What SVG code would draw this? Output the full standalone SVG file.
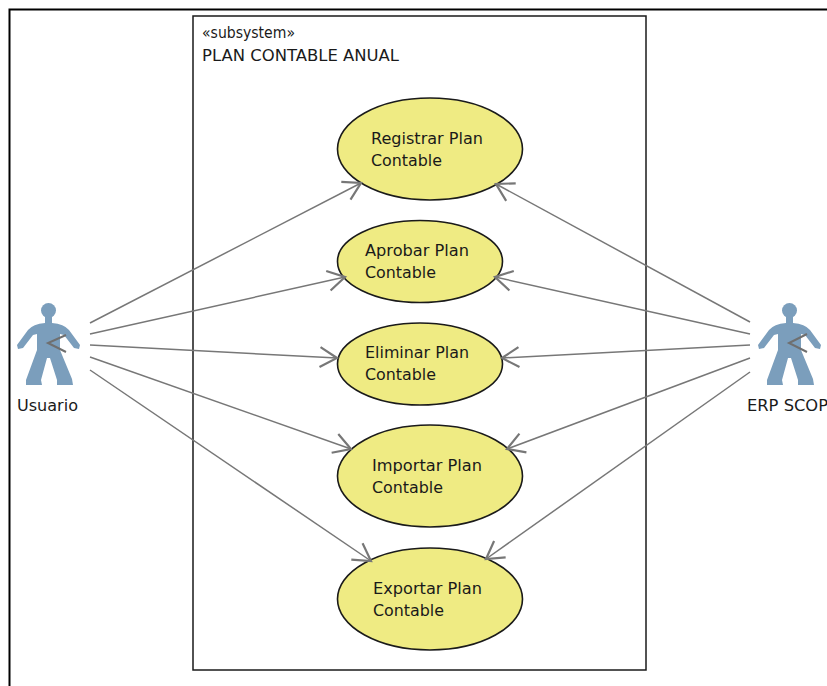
<svg xmlns="http://www.w3.org/2000/svg" width="827" height="686" viewBox="0 0 827 686">
<style>
text{font-family:"DejaVu Sans","Noto Sans",sans-serif;font-size:16px;fill:#1a1a1a}
.uc{fill:#efeb83;stroke:#1a1a1a;stroke-width:1.6}
.c{fill:none;stroke:#777;stroke-width:1.5;marker-end:url(#open)}
.fig{fill:#7b9ebc}
</style>
<defs>
<marker id="open" markerUnits="userSpaceOnUse" markerWidth="24" markerHeight="24" viewBox="-20 -12 24 24" refX="0" refY="0" orient="auto" overflow="visible">
<path d="M-17,-10 L0,0 L-17,10" fill="none" stroke="#777" stroke-width="2.2"/>
</marker>
<g id="figure">
<circle class="fig" cx="48.5" cy="310.5" r="7.5"/>
<path class="fig" d="M45,316 L52,316 L52,323 Q64,324 69,330 L80,345 L79,349 L74,348 L64,335 L60,334 L60,350 L72,379 L73,385 L57,385 L57,380 L50,358 L47,358 L41,380 L42,385 L26,385 L26,380 L37,350 L37,334 L33,335 L23,348 L18,349 L17,345 L28,330 Q33,324 45,323 Z"/>
</g>
</defs>
<rect id="frame" x="9.5" y="9.5" width="900" height="760" fill="#fff" stroke="#000" stroke-width="2"/>
<g id="subsystem">
<rect x="193" y="16" width="453" height="654" fill="#fff" stroke="#1a1a1a" stroke-width="1.5"/>
<text x="202" y="38" textLength="93" lengthAdjust="spacingAndGlyphs">«subsystem»</text>
<text x="202" y="61" textLength="197" lengthAdjust="spacingAndGlyphs">PLAN CONTABLE ANUAL</text>
</g>
<g id="uc1"><ellipse class="uc" cx="430" cy="149" rx="92.5" ry="51"/>
<text x="371" y="144" textLength="112" lengthAdjust="spacingAndGlyphs">Registrar Plan</text><text x="371" y="166" textLength="71" lengthAdjust="spacingAndGlyphs">Contable</text></g>
<g id="uc2"><ellipse class="uc" cx="420" cy="261.500" rx="82.500" ry="41"/>
<text x="365" y="256" textLength="104" lengthAdjust="spacingAndGlyphs">Aprobar Plan</text><text x="365" y="278" textLength="71" lengthAdjust="spacingAndGlyphs">Contable</text></g>
<g id="uc3"><ellipse class="uc" cx="420" cy="364" rx="82.500" ry="41"/>
<text x="365" y="358" textLength="104" lengthAdjust="spacingAndGlyphs">Eliminar Plan</text><text x="365" y="380" textLength="71" lengthAdjust="spacingAndGlyphs">Contable</text></g>
<g id="uc4"><ellipse class="uc" cx="430" cy="476" rx="92.500" ry="51"/>
<text x="372" y="471" textLength="110" lengthAdjust="spacingAndGlyphs">Importar Plan</text><text x="372" y="493" textLength="71" lengthAdjust="spacingAndGlyphs">Contable</text></g>
<g id="uc5"><ellipse class="uc" cx="430" cy="599" rx="92.500" ry="51"/>
<text x="373" y="594" textLength="109" lengthAdjust="spacingAndGlyphs">Exportar Plan</text><text x="373" y="616" textLength="71" lengthAdjust="spacingAndGlyphs">Contable</text></g>
<g id="actor-usuario"><use href="#figure"/>
<text x="17" y="411" textLength="61" lengthAdjust="spacingAndGlyphs">Usuario</text></g>
<g id="actor-erp"><use href="#figure" x="741"/>
<text x="747" y="411" textLength="81" lengthAdjust="spacingAndGlyphs">ERP SCOP</text></g>
<g id="connectors">
<path class="c" d="M90,323 L361,183"/>
<path class="c" d="M90,334 L345,277"/>
<path class="c" d="M90,345 L337,358"/>
<path class="c" d="M90,357 L351,449"/>
<path class="c" d="M90,370 L371,561"/>
<path class="c" d="M750,322 L496,184"/>
<path class="c" d="M750,334 L495,277"/>
<path class="c" d="M750,345 L502,358"/>
<path class="c" d="M750,358 L507,449"/>
<path class="c" d="M750,372 L486,559"/>
<path d="M66,335 L48,343 L66,352" fill="none" stroke="#6f6f6f" stroke-width="2"/>
<path d="M807,334 L789,343 L807,352" fill="none" stroke="#6f6f6f" stroke-width="2"/>
</g>
</svg>
